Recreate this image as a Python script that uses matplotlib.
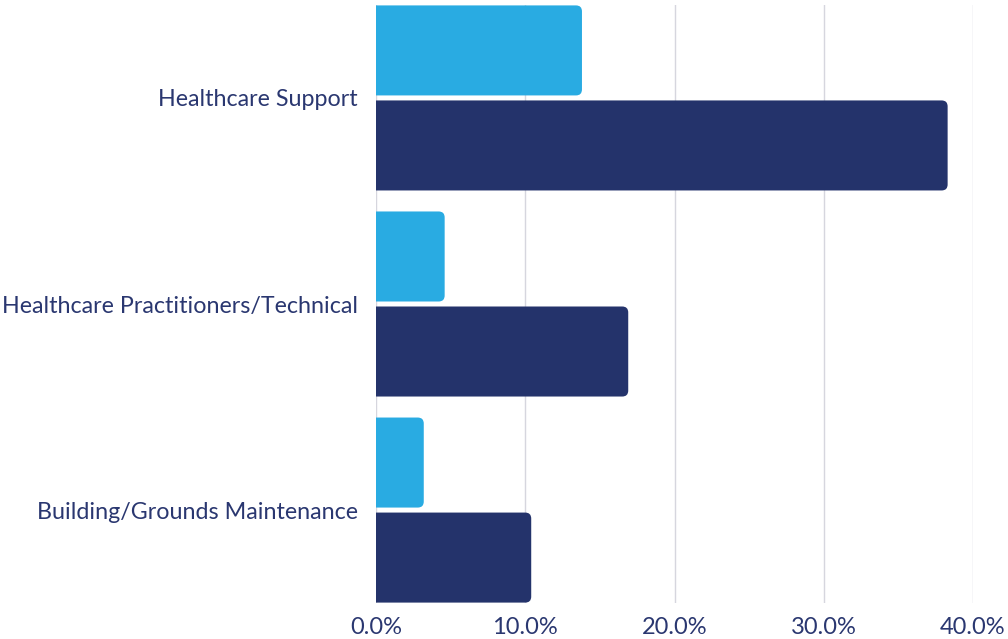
import matplotlib
matplotlib.use("Agg")
import matplotlib.pyplot as plt
from matplotlib.patches import PathPatch
from matplotlib.path import Path
import numpy as np

categories = ["Healthcare Support", "Healthcare Practitioners/Technical", "Building/Grounds Maintenance"]
series_light = [13.8, 4.6, 3.2]
series_dark = [38.3, 16.9, 10.4]
x_ticks = [0, 10, 20, 30, 40]
x_tick_labels = ["0.0%", "10.0%", "20.0%", "30.0%", "40.0%"]

LIGHT = "#29ABE2"
DARK = "#24336B"
TEXT = "#2A3770"
GRID = "#D6D6DE"

plt.rcParams['font.family'] = ['Lato', 'DejaVu Sans']

fig = plt.figure(figsize=(10.08, 6.39), dpi=100)
W, H = 1008, 639
ax_left, ax_right, ax_top, ax_bottom = 376, 973, 5, 603
ax = fig.add_axes([ax_left / W, 1 - ax_bottom / H, (ax_right - ax_left) / W, (ax_bottom - ax_top) / H])

ylo, yhi = -0.451, 2.451
ax.set_xlim(0, 40)
ax.set_ylim(yhi, ylo)

bar_h = 90 / 206
offset = 47.5 / 206

x_per_px = 40 / (ax_right - ax_left)
y_per_px = (yhi - ylo) / (ax_bottom - ax_top)
radius_px = 6
rx = radius_px * x_per_px
ry = radius_px * y_per_px


def rbar(y_center, width, color):
    y0 = y_center - bar_h / 2
    y1 = y_center + bar_h / 2
    verts = [
        (0, y0), (width - rx, y0),
        (width, y0), (width, y0 + ry),
        (width, y1 - ry),
        (width, y1), (width - rx, y1),
        (0, y1), (0, y0),
    ]
    codes = [Path.MOVETO, Path.LINETO,
             Path.CURVE3, Path.CURVE3,
             Path.LINETO,
             Path.CURVE3, Path.CURVE3,
             Path.LINETO, Path.CLOSEPOLY]
    ax.add_patch(PathPatch(Path(verts, codes), facecolor=color, edgecolor="none", zorder=3))


ypos = np.arange(len(categories))
for i, (a, b) in enumerate(zip(series_light, series_dark)):
    rbar(ypos[i] - offset, a, LIGHT)
    rbar(ypos[i] + offset, b, DARK)

ax.set_xticks(x_ticks)
ax.set_xticklabels(x_tick_labels)
ax.set_yticks(ypos)
ax.set_yticklabels(categories)
ax.tick_params(axis='x', length=0, pad=10, labelsize=17, labelcolor=TEXT)
ax.tick_params(axis='y', length=0, pad=13, labelsize=16.75, labelcolor=TEXT)
for s in ax.spines.values():
    s.set_visible(False)
ax.grid(axis='x', color=GRID, linewidth=1, zorder=0)
ax.set_axisbelow(True)

fig.savefig("out.png", dpi=100)
